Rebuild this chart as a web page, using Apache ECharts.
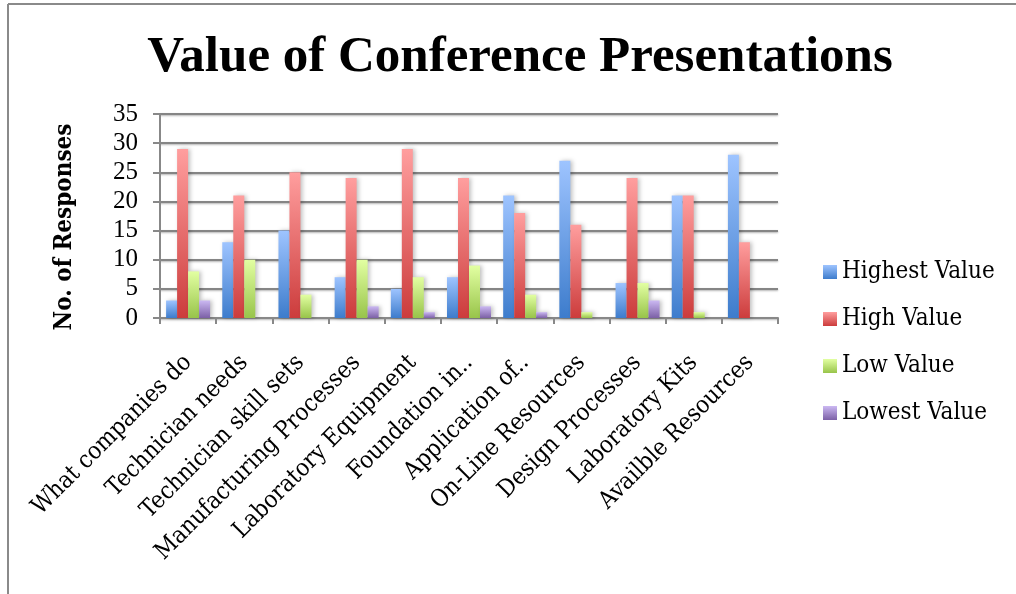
<!DOCTYPE html>
<html><head><meta charset="utf-8">
<script src="https://cdn.jsdelivr.net/npm/echarts@6/dist/echarts.min.js"></script>
<style>html,body{margin:0;padding:0;background:#fff}#c{width:1016px;height:594px}</style>
</head><body><div id="c"></div>
<script>
const categories = ['What companies do','Technician needs','Technician skill sets','Manufacturing Processes','Laboratory Equipment','Foundation in..','Application of..','On-Line Resources','Design Processes','Laboratory Kits','Availble Resources'];
const highestValue = [3,13,15,7,5,7,21,27,6,21,28];
const highValue = [29,21,25,24,29,24,18,16,24,21,13];
const lowValue = [8,10,4,10,7,9,4,1,6,1,0];
const lowestValue = [3,0,0,2,1,2,1,0,3,0,0];
const seriesNames = ['Highest Value','High Value','Low Value','Lowest Value'];
const yAxisName = 'No. of Responses';
const font = '"Liberation Serif", "DejaVu Serif", serif';
const wfont = '"DejaVu Serif Condensed", "DejaVu Serif", serif';
function grad(top, bottom){return new echarts.graphic.LinearGradient(0,0,0,1,[{offset:0,color:top},{offset:1,color:bottom}]);}
const colors = [grad('#9ec4ff','#3d7ccc'), grad('#ff9e9e','#cc3c3c'), grad('#e2ffa2','#98c44a'), grad('#cbb8f2','#7c60a6')];
const data = [highestValue, highValue, lowValue, lowestValue];
const chart = echarts.init(document.getElementById('c'));
chart.setOption({
  animation:false,
  graphic:[
    {type:'line',shape:{x1:8,y1:4,x2:1016,y2:4},style:{stroke:'#8a8a8a',lineWidth:2}},
    {type:'line',shape:{x1:8,y1:4,x2:8,y2:594},style:{stroke:'#8a8a8a',lineWidth:2}},
    {type:'text',x:65,y:227,rotation:Math.PI/2,style:{text:yAxisName,font:'bold 24px "DejaVu Serif Condensed", "DejaVu Serif", serif',fill:'#000',textAlign:'center',textVerticalAlign:'middle'}}
  ],
  title:{text:'Value of Conference Presentations',left:515,top:27,textAlign:'center',textStyle:{fontFamily:font,fontWeight:'bold',fontSize:51,color:'#000'}},
  grid:{left:160,right:238,top:114,bottom:276},
  legend:{orient:'vertical',left:818,top:255,itemWidth:14,itemHeight:14,itemGap:23,icon:'rect',
    textStyle:{fontFamily:wfont,fontSize:24,color:'#000'},data:seriesNames},
  xAxis:{type:'category',data:categories,
    axisLine:{lineStyle:{color:'#888',width:2}},
    axisTick:{show:true,length:6,lineStyle:{color:'#888',width:2}},
    axisLabel:{rotate:45,fontFamily:wfont,fontSize:24,color:'#000',margin:41,interval:0}},
  yAxis:{type:'value',min:0,max:35,interval:5,
    axisLine:{show:true,lineStyle:{color:'#888',width:2}},
    axisTick:{show:true,length:7,lineStyle:{color:'#888',width:2}},
    axisLabel:{fontFamily:font,fontSize:25,color:'#000',margin:22},
    splitLine:{lineStyle:{color:'#858585',width:2,shadowColor:'rgba(0,0,0,0.3)',shadowBlur:2,shadowOffsetY:1}}},
  series:data.map((d,i)=>({name:seriesNames[i],type:'bar',data:d,barWidth:11,barGap:'0%',
    itemStyle:{color:colors[i],shadowColor:'rgba(0,0,0,0.25)',shadowBlur:4,shadowOffsetX:2}}))
});
</script></body></html>
